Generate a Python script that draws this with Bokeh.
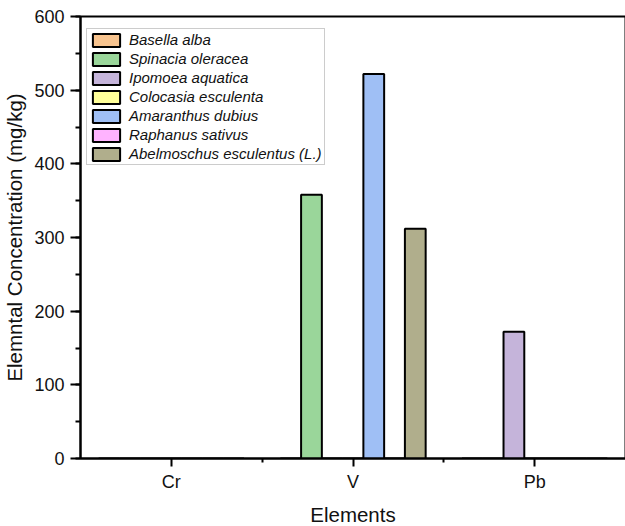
from bokeh.plotting import figure
from bokeh.models import Range1d, FixedTicker, SingleIntervalTicker, Legend, LegendItem
from bokeh.embed import file_html
from bokeh.resources import INLINE

categories = ["Cr", "V", "Pb"]
species = ["Basella alba", "Spinacia oleracea", "Ipomoea aquatica", "Colocasia esculenta",
           "Amaranthus dubius", "Raphanus sativus", "Abelmoschus esculentus (L.)"]
basella_alba = [0, 0, 0]
spinacia_oleracea = [0, 358, 0]
ipomoea_aquatica = [0, 0, 172]
colocasia_esculenta = [0, 0, 0]
amaranthus_dubius = [0, 522, 0]
raphanus_sativus = [0, 0, 0]
abelmoschus_esculentus = [0, 312, 0]
series_values = [basella_alba, spinacia_oleracea, ipomoea_aquatica, colocasia_esculenta,
                 amaranthus_dubius, raphanus_sativus, abelmoschus_esculentus]
colors = ["#F8C48F", "#9AD69A", "#C5B4DA", "#FFFF99", "#9FBFF5", "#FFB3FF", "#B0AE8C"]

FONT = "Liberation Sans"

p = figure(frame_width=545, frame_height=442, min_border_left=78, min_border_right=2,
           min_border_top=16, min_border_bottom=68, output_backend="svg",
           toolbar_location=None, x_range=Range1d(0.5, 3.5), y_range=Range1d(0, 600))
p.xgrid.visible = False
p.ygrid.visible = False
p.outline_line_color = "black"
p.outline_line_width = 2
p.background_fill_color = "white"
p.border_fill_color = "white"

n = len(species)
w = 0.8 / n
centers = list(range(1, len(categories) + 1))
items = []
for j, (name, vals, col) in enumerate(zip(species, series_values, colors)):
    xs = [c + (j - (n - 1) / 2) * w for c in centers]
    r = p.vbar(x=xs, top=vals, width=w, bottom=0, fill_color=col,
               line_color="black", line_width=2)
    items.append(LegendItem(label=name, renderers=[r]))

# axes
p.xaxis.ticker = FixedTicker(ticks=centers, minor_ticks=[1.5, 2.5])
p.xaxis.major_label_overrides = {c: cat for c, cat in zip(centers, categories)}
p.yaxis.ticker = SingleIntervalTicker(interval=100, num_minor_ticks=2)
for ax in (p.xaxis[0], p.yaxis[0]):
    ax.axis_line_width = 2
    ax.axis_line_color = "black"
    ax.major_tick_line_width = 2
    ax.minor_tick_line_width = 2
    ax.major_tick_in = 0
    ax.minor_tick_in = 0
    ax.major_label_text_font = FONT
    ax.major_label_text_font_size = "18px"
    ax.major_label_text_color = "#111111"
    ax.axis_label_text_font = FONT
    ax.axis_label_text_font_size = "20.5px"
    ax.axis_label_text_font_style = "normal"
    ax.axis_label_text_color = "#111111"
p.yaxis.major_tick_out = 10
p.yaxis.minor_tick_out = 5
p.yaxis.major_label_standoff = 6
p.yaxis.axis_label_standoff = 5
p.xaxis.major_tick_out = 8
p.xaxis.minor_tick_out = 4
p.xaxis.major_label_standoff = 5
p.xaxis.axis_label_standoff = 8
p.xaxis.axis_label = "Elements"
p.yaxis.axis_label = "Elemntal Concentration (mg/kg)"

legend = Legend(items=items, location=(6, 293))
legend.label_text_font = FONT
legend.label_text_font_style = "italic"
legend.label_text_font_size = "15px"
legend.label_text_color = "#111111"
legend.glyph_width = 34
legend.glyph_height = 16
legend.label_height = 16
legend.label_standoff = 6
legend.spacing = 2
legend.padding = 2
legend.margin = 0
legend.border_line_color = "#999999"
legend.border_line_width = 1
legend.background_fill_color = "white"
legend.background_fill_alpha = 1
p.add_layout(legend, "center")

open("out.html", "w").write(file_html(p, INLINE))
